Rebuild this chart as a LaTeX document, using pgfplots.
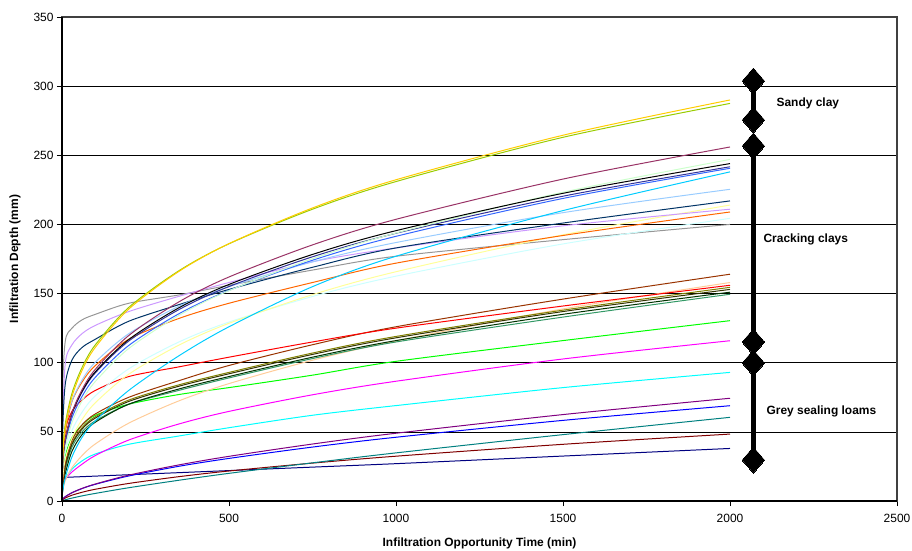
\documentclass[border=0pt]{standalone}
\usepackage{fontspec}
\setmainfont{Liberation Sans}
\usepackage{pgfplots}
\usepackage{pgfplotstable}
\pgfplotsset{compat=1.18}

\definecolor{cgold}{HTML}{FFCC00}
\definecolor{cygreen}{HTML}{99CC00}
\definecolor{cmaroon}{HTML}{993366}
\definecolor{clgreen}{HTML}{CCFFCC}
\definecolor{cdblue}{HTML}{333399}
\definecolor{cblueb}{HTML}{3366FF}
\definecolor{csky}{HTML}{00CCFF}
\definecolor{clblue}{HTML}{99CCFF}
\definecolor{cnavyb}{HTML}{003366}
\definecolor{clyellow}{HTML}{FFFF99}
\definecolor{clavender}{HTML}{CC99FF}
\definecolor{corange}{HTML}{FF6600}
\definecolor{clcyan}{HTML}{CCFFFF}
\definecolor{cgray}{HTML}{969696}
\definecolor{cbrown}{HTML}{993300}
\definecolor{cred}{HTML}{FF0000}
\definecolor{cdolive}{HTML}{333300}
\definecolor{colive}{HTML}{808000}
\definecolor{cpeach}{HTML}{FFCC99}
\definecolor{cseagreen}{HTML}{339966}
\definecolor{cdgreen}{HTML}{003300}
\definecolor{cgreen}{HTML}{00FF00}
\definecolor{cmagenta}{HTML}{FF00FF}
\definecolor{ccyan}{HTML}{00FFFF}
\definecolor{cpurple}{HTML}{800080}
\definecolor{cblue}{HTML}{0000FF}
\definecolor{cteal}{HTML}{008080}
\definecolor{cdred}{HTML}{800000}
\definecolor{cnavy}{HTML}{000080}

% Sandy clay
\pgfplotstableread{
t    gold  ygreen
0    0     0
2    31.8  34
10   53.2  56
30   75.6  78
60   94.4  96.5
100  111.2 113
200  138.8 140
350  166.0 166.5
500  186.1 186
750  211.9 211
1000 232.3 231
1500 264.5 263
2000 290   287.5
}\sandy

% Cracking clays, upper
\pgfplotstableread{
t    maroon black lgreen dblue blueb sky lblue navyb lyellow lavender orange lcyan gray
0    0      0     0      0     0     0   0     0     0       0        0      0     0
2    26.2   26.7  22.0   26.5  24.6  7   34.9  50    16.8    55       25     20.9  80
10   44.6   44.8  38.7   44.4  41.9  17  53.9  85    30.5    100      50     35.6  116
30   64.0   63.6  56.8   63.0  60.2  32  72.5  102   45.6    113      72     51.1  125
60   80.5   79.4  72.4   78.7  75.6  46  87.4  111   58.9    121      86     64.2  131
100  95.3   93.5  86.5   92.7  89.5  58  100.4 117   71.1    127      98     76.1  135
200  119.7  116.8 110.3  115.7 112.5 80  121.0 130   91.7    137      117    95.6  143
350  144.0  139.7 134.2  138.4 135.4 105 140.8 142   112.7   148      132    115.0 149
500  162.0  156.6 152.1  155.1 152.3 126 155.0 153   128.5   158      143    129.4 156
750  185.2  178.3 175.2  176.6 174.1 155 172.9 169   149.2   173      158    147.9 167
1000 203.7  195.5 193.8  193.6 191.4 177 186.9 183   165.8   183      172    162.6 177
1500 232.8  222.5 223.3  220.4 218.8 210 208.5 201   192.5   199      192    185.9 189
2000 256    244   247    241.7 240.6 238 225.4 217   214     211      209    204.4 200
}\crackup

% Cracking clays, lower
\pgfplotstableread{
t    brown red dolive olive peach seagreen dgreen green
0    0     0   0      0     0     0        0      0
2    12    35  10     11    7.2   9        8      18
10   28    52  25     26    14.7  23       20     33
30   44    65  41     42    24.1  39       36     46
60   55    73  52     53    32.8  50       48     55
100  63    80  60     61    41.3  58       57     62
200  75    90  72     73    56.3  70       70     70
350  87    97  83     84    72.4  80       81     77
500  98    104 92     93    84.9  89       90     82
750  113   115 106    107   101.8 103      104    91
1000 126   125 118    119   115.8 115      116    101
1500 146   141 137    138   138.9 133      135    116
2000 164   156 153    154.5 158   149.5    151    130.4
}\cracklow

% Grey sealing loams
\pgfplotstableread{
t    magenta cyan purple blue teal dred navy
0    0       0    0      0    0    0    0
2    12      10   1.2    1.3  0.2  0.9  16
10   16      16   3.1    3.2  0.9  2.2  17
30   21      23   6.0    6.0  2.1  4.2  17.3
60   26.6    29   9.1    9.0  3.7  6.3  17.6
100  32.9    34   12.3   12.1 5.5  8.5  18
200  44.1    41   18.7   18.1 9.6  12.7 19
350  55.7    47   26.1   25.1 15.0 17.6 20.5
500  64.8    53   32.3   30.8 20.0 21.7 22
750  76.8    62   41.2   39.0 27.6 27.4 24.5
1000 86.6    69   49.0   46.1 34.8 32.4 27
1500 102.7   82   62.5   58.3 48.0 41.0 32.5
2000 115.9   93   74.3   68.9 60.5 48.4 38
}\loams

\begin{document}
\begin{tikzpicture}
\useasboundingbox (-62bp,-50bp) rectangle (850bp,501bp);
\begin{axis}[
  scale only axis, width=835bp, height=484bp,
  xmin=0, xmax=2500, ymin=0, ymax=350,
  xtick={0,500,...,2500}, ytick={0,50,...,350},
  clip=false,
  tick pos=left, tick align=outside, major tick length=5bp,
  tick style={black, line width=0.8pt},
  axis line style={draw=black!75, line width=1.3pt},
  ymajorgrids, major grid style={black, line width=0.7pt},
  ticklabel style={font=\fontsize{12}{14}\selectfont},
  xticklabel style={yshift=-5bp},
  /pgf/number format/assume math mode=true,
  /pgf/number format/1000 sep={},
  every axis x label/.style={at={(axis description cs:0.5,-0.0868)}, anchor=center},
  every axis y label/.style={at={(axis description cs:-0.0563,0.5)}, rotate=90, anchor=center},
  label style={font=\fontsize{12}{14}\selectfont\bfseries},
  xlabel={Infiltration Opportunity Time (min)},
  ylabel={Infiltration Depth (mm)},
  crv/.style={line width=1pt, mark=none, smooth, tension=0.5},
  rng/.style={black, line width=5.5pt, mark=diamond*, mark size=13bp, mark options={solid, line width=0pt, xscale=1.15}},
]
% loams
\addplot[crv, cnavy] table[x=t,y=navy]{\loams};
\addplot[crv, cdred] table[x=t,y=dred]{\loams};
\addplot[crv, cteal] table[x=t,y=teal]{\loams};
\addplot[crv, cblue] table[x=t,y=blue]{\loams};
\addplot[crv, cpurple] table[x=t,y=purple]{\loams};
\addplot[crv, ccyan] table[x=t,y=cyan]{\loams};
\addplot[crv, cmagenta] table[x=t,y=magenta]{\loams};
% lower cracking
\addplot[crv, cgreen] table[x=t,y=green]{\cracklow};
\addplot[crv, cpeach] table[x=t,y=peach]{\cracklow};
\addplot[crv, cseagreen] table[x=t,y=seagreen]{\cracklow};
\addplot[crv, cdgreen] table[x=t,y=dgreen]{\cracklow};
\addplot[crv, colive] table[x=t,y=olive]{\cracklow};
\addplot[crv, cdolive] table[x=t,y=dolive]{\cracklow};
\addplot[crv, cbrown] table[x=t,y=brown]{\cracklow};
\addplot[crv, cred] table[x=t,y=red]{\cracklow};
% upper cracking
\addplot[crv, cgray] table[x=t,y=gray]{\crackup};
\addplot[crv, clcyan] table[x=t,y=lcyan]{\crackup};
\addplot[crv, clyellow] table[x=t,y=lyellow]{\crackup};
\addplot[crv, corange] table[x=t,y=orange]{\crackup};
\addplot[crv, clavender] table[x=t,y=lavender]{\crackup};
\addplot[crv, cnavyb] table[x=t,y=navyb]{\crackup};
\addplot[crv, clblue] table[x=t,y=lblue]{\crackup};
\addplot[crv, csky] table[x=t,y=sky]{\crackup};
\addplot[crv, cblueb] table[x=t,y=blueb]{\crackup};
\addplot[crv, cdblue] table[x=t,y=dblue]{\crackup};
\addplot[crv, clgreen] table[x=t,y=lgreen]{\crackup};
\addplot[crv, black] table[x=t,y=black]{\crackup};
\addplot[crv, cmaroon] table[x=t,y=maroon]{\crackup};
% sandy
\addplot[crv, cygreen] table[x=t,y=ygreen]{\sandy};
\addplot[crv, cgold] table[x=t,y=gold]{\sandy};
% range bars
\addplot[rng] coordinates {(2070,303.7) (2070,275.5)};
\addplot[rng] coordinates {(2070,256.7) (2070,115)};
\addplot[rng] coordinates {(2070,99.8) (2070,29.6)};
% frame
\draw[black, line width=2.5pt] (rel axis cs:0,1) -- (rel axis cs:0,0) -- (rel axis cs:1,0);
\node[anchor=west, font=\fontsize{12}{14}\selectfont\bfseries] at (axis cs:2129,287.8) {Sandy clay};
\node[anchor=west, font=\fontsize{12}{14}\selectfont\bfseries] at (axis cs:2090,189.5) {Cracking clays};
\node[anchor=west, font=\fontsize{12}{14}\selectfont\bfseries] at (axis cs:2099,65) {Grey sealing loams};
\end{axis}
\end{tikzpicture}
\end{document}
